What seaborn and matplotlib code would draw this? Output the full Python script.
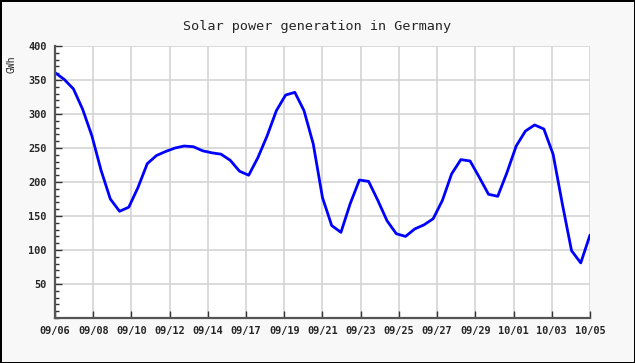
import numpy as np
import pandas as pd
import matplotlib
matplotlib.use('Agg')
import matplotlib.pyplot as plt
import seaborn as sns

# values every half day (GWh), 09/06 .. 10/05
days = np.arange(0, 29.5, 0.5)
gwh = [361, 351, 337, 307, 268, 217, 175, 157, 163, 192,
       227, 239, 245, 250, 253, 252, 246, 243, 241, 232,
       216, 210, 236, 268, 305, 328, 332, 305, 256, 177,
       136, 126, 168, 203, 201, 173, 143, 124, 120, 131,
       137, 146, 173, 212, 233, 231, 207, 182, 179, 214,
       253, 275, 284, 278, 241, 168, 99, 81, 122]
tick_labels = ['09/06', '09/08', '09/10', '09/12', '09/14', '09/17', '09/19', '09/21',
               '09/23', '09/25', '09/27', '09/29', '10/01', '10/03', '10/05']

df = pd.DataFrame({'day': days, 'GWh': gwh})

sns.set_style('white')
plt.rcParams['font.family'] = ['DejaVu Sans Mono', 'DejaVu Sans']

fig = plt.figure(figsize=(6.35, 3.63), dpi=100, facecolor='#f8f8f8',
                 edgecolor='black', linewidth=2)
ax = fig.add_axes([0.0866, 0.124, 0.8425, 0.749])
ax.set_facecolor('white')

sns.lineplot(data=df, x='day', y='GWh', ax=ax, color='#0000ff', linewidth=2.0,
             solid_joinstyle='round', solid_capstyle='round')

ax.set_xlim(0, 29)
ax.set_ylim(0, 400)
ax.set_xticks(np.linspace(0, 29, len(tick_labels)))
ax.set_xticklabels(tick_labels)
ax.set_yticks([50, 100, 150, 200, 250, 300, 350, 400])
ax.set_yticks(np.arange(0, 401, 10), minor=True)

ax.grid(True, which='major', color='#d4d4d4', linewidth=1.2)
ax.set_axisbelow(True)
for s in ['top', 'right']:
    ax.spines[s].set_visible(False)
for s in ['left', 'bottom']:
    ax.spines[s].set_color('#555555')
    ax.spines[s].set_linewidth(1.6)

ax.tick_params(axis='both', which='major', direction='in', length=5, width=1,
               color='#333333', labelsize=7.4, pad=6, left=True, bottom=True)
ax.tick_params(axis='y', which='minor', direction='in', length=3, width=1,
               color='#333333', left=True)
ax.tick_params(axis='x', which='minor', length=0)
for lab in ax.get_xticklabels() + ax.get_yticklabels():
    lab.set_fontweight('bold')

ax.set_xlabel('')
ax.set_ylabel('GWh', fontsize=7, labelpad=0)
ax.yaxis.set_label_coords(-0.072, 0.935)
fig.suptitle('Solar power generation in Germany', fontsize=9.7, y=0.945)

fig.savefig('out.png', dpi=100, facecolor=fig.get_facecolor(), edgecolor=fig.get_edgecolor())
